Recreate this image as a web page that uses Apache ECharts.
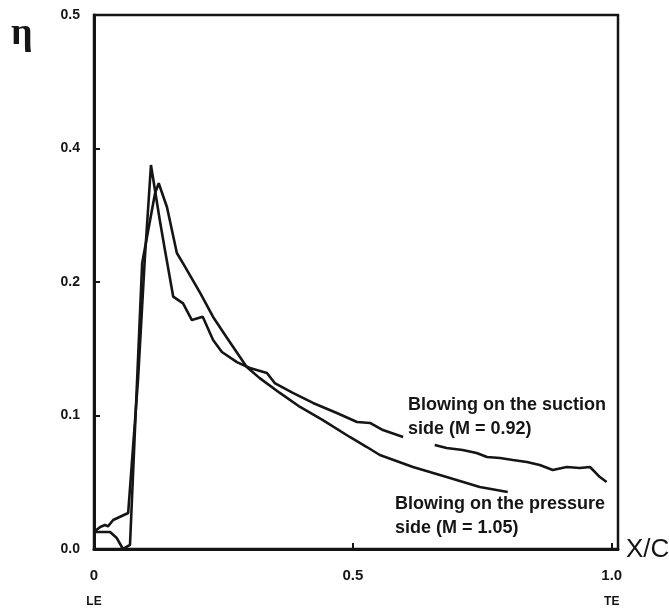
<!DOCTYPE html>
<html>
<head>
<meta charset="utf-8">
<script src="https://cdn.jsdelivr.net/npm/echarts@6/dist/echarts.min.js"></script>
<style>html,body{margin:0;padding:0;background:#fff;}#c{width:669px;height:615px;}</style>
</head>
<body>
<div id="c"></div>
<script>
// x/c positions and efficiency values (y in the chart's drawn axis units; ticks labelled below)
var suctionX = [0.002,0.012,0.021,0.027,0.037,0.066,0.085,0.098,0.110,0.127,0.137,0.153,0.172,0.189,0.210,0.230,0.247,0.276,0.301,0.334,0.349,0.384,0.423,0.469,0.508,0.533,0.558,0.597,0.62,0.658,0.681,0.712,0.739,0.759,0.784,0.809,0.836,0.861,0.886,0.913,0.938,0.958,0.977,0.990];
var suctionY = [0.0135,0.0165,0.018,0.017,0.0217,0.027,0.1266,0.2165,0.2876,0.2464,0.224,0.189,0.184,0.1715,0.174,0.1566,0.1476,0.140,0.1356,0.1318,0.1243,0.1169,0.1094,0.1019,0.0951,0.0944,0.0891,0.0839,null,0.0779,0.0757,0.0742,0.0719,0.0689,0.0682,0.0667,0.0652,0.0629,0.0592,0.0614,0.0607,0.0614,0.0539,0.0502];
var pressureX = [0.002,0.031,0.044,0.056,0.0695,0.093,0.118,0.125,0.141,0.160,0.172,0.205,0.230,0.257,0.295,0.320,0.359,0.398,0.442,0.494,0.527,0.552,0.616,0.681,0.745,0.799];
var pressureY = [0.0127,0.0127,0.0082,0.0,0.003,0.214,0.2667,0.274,0.256,0.2217,0.214,0.1918,0.1738,0.158,0.1363,0.128,0.1169,0.1064,0.0966,0.0839,0.0764,0.0704,0.0614,0.0539,0.0464,0.0427];
var yTickLabels = ["0.0","0.1","0.2","0.4","0.5"];
var xTickLabels = {"0":"0","0.5":"0.5","1":"1.0"};
var xSubLabels = {"0":"LE","0.5":"","1":"TE"};
var suctionLabel = ["Blowing on the suction","side (M = 0.92)"];
var pressureLabel = ["Blowing on the pressure","side (M = 1.05)"];

function zip(xs, ys){ return xs.map(function(x,i){ return [x, ys[i]]; }); }

var chart = echarts.init(document.getElementById('c'), null, {renderer:'canvas'});
var ink = '#151515';
chart.setOption({
  animation:false,
  backgroundColor:'#fff',
  grid:{left:94, top:15, right:51, bottom:66, show:true, borderColor:ink, borderWidth:2.5, backgroundColor:'transparent'},
  xAxis:{
    type:'value', min:0, max:1.012, interval:0.5,
    axisLine:{show:true, lineStyle:{color:ink, width:3}},
    axisTick:{show:true, inside:true, length:6, lineStyle:{color:ink, width:2}},
    splitLine:{show:false},
    axisLabel:{
      margin:14, showMaxLabel:false,
      formatter:function(v){ var k=String(Math.round(v*10)/10); if(!(k in xTickLabels)) return ''; return '{a|'+xTickLabels[k]+'}\n{b|'+xSubLabels[k]+'}'; },
      rich:{
        a:{fontFamily:'Liberation Sans', fontWeight:'bold', fontSize:15, color:ink, lineHeight:26},
        b:{fontFamily:'Liberation Sans', fontWeight:'bold', fontSize:12, color:ink, lineHeight:26}
      }
    }
  },
  yAxis:{
    type:'value', min:0, max:0.4, interval:0.1,
    axisLine:{show:true, lineStyle:{color:ink, width:3}},
    axisTick:{show:true, inside:true, length:6, lineStyle:{color:ink, width:2}},
    splitLine:{show:false},
    axisLabel:{
      margin:14, fontFamily:'Liberation Sans', fontWeight:'bold', fontSize:14, color:ink,
      formatter:function(v){ return yTickLabels[Math.round(v*10)] || ''; }
    }
  },
  series:[
    {type:'line', data:zip(suctionX, suctionY), showSymbol:false, connectNulls:false, lineStyle:{color:ink, width:2.6}, silent:true},
    {type:'line', data:zip(pressureX, pressureY), showSymbol:false, lineStyle:{color:ink, width:2.6}, silent:true}
  ],
  graphic:[
    {type:'text', left:11, top:15, style:{text:'η', font:'bold 38px "Liberation Serif"', fill:ink}},
    {type:'text', left:626, top:537, style:{text:'X/C', font:'26px "Liberation Sans"', fill:ink}},
    {type:'text', left:408, top:393, style:{text:suctionLabel.join('\n'), font:'bold 18px "Liberation Sans"', fill:ink, lineHeight:24}},
    {type:'text', left:395, top:492, style:{text:pressureLabel.join('\n'), font:'bold 18px "Liberation Sans"', fill:ink, lineHeight:24}}
  ]
});
</script>
</body>
</html>
